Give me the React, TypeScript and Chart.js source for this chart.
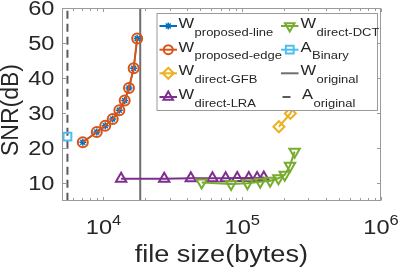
import React, { useEffect, useRef } from 'react';
import { Chart, registerables } from 'chart.js';
Chart.register(...registerables);

// ---- data ----
const proposedSize = [7100, 8950, 10300, 11660, 13010, 14220, 15270, 16500, 17500];
const proposedSNR = [21.7, 24.6, 26.4, 28.3, 30.8, 33.6, 37.2, 42.8, 51.3];
const gfbSize = [183800, 222300, 255000, 290000];
const gfbSNR = [26.1, 29.9, 36.0, 45.0];
const lraSize = [13400, 27400, 42600, 61000, 75900, 92000, 111500, 128000, 143000];
const lraSNR = [11.3, 11.3, 11.4, 11.4, 11.4, 11.5, 11.5, 11.5, 11.6];
const dctSize = [51000, 83100, 109000, 134700, 158800, 182300, 202400, 221000, 238400];
const dctSNR = [10.2, 9.8, 10.0, 10.4, 10.7, 11.4, 12.4, 15.0, 19.0];
const binarySize = [5500];
const binarySNR = [23.3];
const wOriginalSize = 18400;
const aOriginalSize = 5500;
const yRange = [5, 60];
const xRange = [5000, 1e6];

const yTicks = [10, 20, 30, 40, 50, 60];
const xMajorTicks = [1e4, 1e5, 1e6];
const xTickBase = '10';
const xTickExp = ['4', '5', '6'];
const yTitle = 'SNR(dB)';
const xTitle = 'file size(bytes)';

const legendMain = ['W', 'W', 'W', 'W', 'W', 'A', 'W', 'A'];
const legendSub = ['proposed-line', 'proposed-edge', 'direct-GFB', 'direct-LRA', 'direct-DCT', 'Binary', 'original', 'original'];

// ---- styles ----
const C = {
  blue: '#0072BD', orange: '#D95319', yellow: '#EDB120', purple: '#7E2F8E',
  green: '#77AC30', cyan: '#4DBEEE', gray: '#6e6e6e', dgray: '#5a5a5a', text: '#262626', frame: '#9a9a9a',
};
const FONT = '"Liberation Sans", Arial, sans-serif';
const SX = 1.18; // horizontal text stretch seen in the reference

const legendStyles = [
  { color: C.blue, marker: 'star', dash: null as number[] | null },
  { color: C.orange, marker: 'circle', dash: null },
  { color: C.yellow, marker: 'rectRot', dash: null },
  { color: C.purple, marker: 'triangle', dash: null },
  { color: C.green, marker: 'triangleDown', dash: null },
  { color: C.cyan, marker: 'rect', dash: null },
  { color: C.gray, marker: null, dash: null },
  { color: C.dgray, marker: null, dash: [8, 30] },
];

function pts(xs: number[], ys: number[]) {
  return xs.map((x, i) => ({ x, y: ys[i] }));
}

function sText(ctx: CanvasRenderingContext2D, text: string, x: number, y: number, align: CanvasTextAlign) {
  ctx.save();
  ctx.translate(x, y);
  ctx.scale(SX, 1);
  ctx.textAlign = align;
  ctx.fillText(text, 0, 0);
  ctx.restore();
}

function drawMarker(ctx: CanvasRenderingContext2D, m: string, x: number, y: number, r: number) {
  ctx.beginPath();
  if (m === 'circle') {
    ctx.arc(x, y, r, 0, Math.PI * 2);
  } else if (m === 'star') {
    for (let k = 0; k < 4; k++) {
      const a = (k * Math.PI) / 4;
      ctx.moveTo(x - Math.cos(a) * r, y - Math.sin(a) * r);
      ctx.lineTo(x + Math.cos(a) * r, y + Math.sin(a) * r);
    }
  } else if (m === 'rectRot') {
    ctx.moveTo(x, y - r); ctx.lineTo(x + r, y); ctx.lineTo(x, y + r); ctx.lineTo(x - r, y); ctx.closePath();
  } else if (m === 'triangle' || m === 'triangleDown') {
    const s = m === 'triangle' ? 1 : -1;
    ctx.moveTo(x, y - s * r);
    ctx.lineTo(x + r * 0.866, y + s * r * 0.5);
    ctx.lineTo(x - r * 0.866, y + s * r * 0.5);
    ctx.closePath();
  } else if (m === 'rect') {
    const h = r * 0.707;
    ctx.rect(x - h, y - h, 2 * h, 2 * h);
  }
  ctx.stroke();
}

const decorPlugin = {
  id: 'decor',
  afterDraw(chart: any) {
    const { ctx, chartArea: a, scales } = chart;
    const xs = scales.x, ys = scales.y;
    ctx.save();

    // legend box
    const lx0 = 157, ly0 = 13.5, lx1 = 377.5, ly1 = 110.5;
    ctx.fillStyle = '#ffffff';
    ctx.fillRect(lx0, ly0, lx1 - lx0, ly1 - ly0);
    ctx.strokeStyle = C.frame;
    ctx.lineWidth = 1;
    ctx.strokeRect(lx0, ly0, lx1 - lx0, ly1 - ly0);
    const colSample = [[159.5, 177], [281, 298.5]];
    const colText = [178.5, 300.5];
    const rowY = [26, 49.7, 73.3, 97];
    legendMain.forEach((main, i) => {
      const col = i < 4 ? 0 : 1;
      const row = i % 4;
      const st = legendStyles[i];
      const [s0, s1] = colSample[col];
      const y = rowY[row];
      ctx.strokeStyle = st.color;
      ctx.lineWidth = 2;
      ctx.setLineDash(st.dash || []);
      ctx.beginPath();
      ctx.moveTo(s0 + (st.dash ? 1.5 : 0), y);
      ctx.lineTo(s1, y);
      ctx.stroke();
      ctx.setLineDash([]);
      if (st.marker) {
        ctx.lineWidth = st.marker === 'star' ? 1.5 : 2;
        const r = st.marker === 'circle' ? 4.5 : st.marker === 'star' ? 3.5 : 5.5;
        drawMarker(ctx, st.marker, (s0 + s1) / 2, y, r);
      }
      ctx.fillStyle = C.text;
      ctx.textBaseline = 'alphabetic';
      ctx.font = `14px ${FONT}`;
      const tx = colText[col] + (i === 7 ? 1.5 : 0);
      sText(ctx, main, tx, y + 2, 'left');
      const w = ctx.measureText(main).width * SX;
      ctx.font = `11px ${FONT}`;
      sText(ctx, legendSub[i], tx + w + 0.5, y + 9.5, 'left');
    });

    // frame
    ctx.strokeStyle = C.frame;
    ctx.lineWidth = 1;
    const L = Math.round(a.left) + 0.5, R = Math.round(a.right) - 0.5;
    const T = Math.round(a.top) + 0.5, B = Math.round(a.bottom) - 0.5;
    ctx.strokeRect(L, T, R - L, B - T);

    // y ticks + labels
    ctx.fillStyle = C.text;
    ctx.font = `20px ${FONT}`;
    ctx.textBaseline = 'middle';
    yTicks.forEach((v) => {
      const py = Math.round(ys.getPixelForValue(v)) + 0.5;
      ctx.beginPath();
      ctx.moveTo(L, py); ctx.lineTo(L + 3.5, py);
      ctx.moveTo(R, py); ctx.lineTo(R - 3.5, py);
      ctx.stroke();
      sText(ctx, String(v), L - 8, py + 1, 'right');
    });

    // x ticks (log major + minor)
    for (let d = 3; d <= 6; d++) {
      for (let m = 1; m <= 9; m++) {
        const v = m * Math.pow(10, d);
        if (v < xRange[0] || v > xRange[1]) continue;
        const px = Math.round(xs.getPixelForValue(v)) + 0.5;
        const len = m === 1 ? 3.5 : 2.5;
        ctx.beginPath();
        ctx.moveTo(px, B); ctx.lineTo(px, B - len);
        ctx.moveTo(px, T); ctx.lineTo(px, T + len);
        ctx.stroke();
      }
    }
    // x labels with superscripts
    ctx.textBaseline = 'alphabetic';
    xMajorTicks.forEach((v, i) => {
      const px = xs.getPixelForValue(v);
      ctx.font = `20px ${FONT}`;
      const wb = ctx.measureText(xTickBase).width * SX;
      ctx.font = `14px ${FONT}`;
      const we = ctx.measureText(xTickExp[i]).width * SX;
      const x0 = px - (wb + we) / 2;
      ctx.font = `20px ${FONT}`;
      sText(ctx, xTickBase, x0, 234, 'left');
      ctx.font = `14px ${FONT}`;
      sText(ctx, xTickExp[i], x0 + wb, 225, 'left');
    });

    // axis titles
    ctx.font = `23px ${FONT}`;
    sText(ctx, xTitle, (a.left + a.right) / 2, 262, 'center');
    ctx.save();
    ctx.translate(18, 110);
    ctx.rotate(-Math.PI / 2);
    ctx.textAlign = 'center';
    ctx.textBaseline = 'alphabetic';
    ctx.fillText(yTitle, 0, 0);
    ctx.restore();

    ctx.restore();
  },
};

export default function App() {
  const ref = useRef<HTMLCanvasElement | null>(null);
  useEffect(() => {
    document.body.style.margin = '0';
    if (!ref.current) return;
    const chart = new Chart(ref.current, {
      type: 'scatter',
      data: {
        datasets: [
          {
            label: 'A_original', data: [{ x: aOriginalSize, y: yRange[0] }, { x: aOriginalSize, y: yRange[1] }],
            showLine: true, borderColor: C.dgray, borderWidth: 2, borderDash: [8, 5], pointRadius: 0, order: 10,
          },
          {
            label: 'W_original', data: [{ x: wOriginalSize, y: yRange[0] }, { x: wOriginalSize, y: yRange[1] }],
            showLine: true, borderColor: C.gray, borderWidth: 2, pointRadius: 0, order: 9,
          },
          {
            label: 'W_proposed-line', data: pts(proposedSize, proposedSNR), showLine: true,
            borderColor: C.blue, borderWidth: 1.5, pointStyle: 'star', pointRadius: 3.5,
            pointBorderColor: C.blue, pointBorderWidth: 1.5, pointBackgroundColor: C.blue, order: 8,
          },
          {
            label: 'W_proposed-edge', data: pts(proposedSize, proposedSNR), showLine: true,
            borderColor: C.orange, borderWidth: 2, pointStyle: 'circle', pointRadius: 5,
            pointBorderColor: C.orange, pointBorderWidth: 2, pointBackgroundColor: 'rgba(0,0,0,0)', order: 7,
          },
          {
            label: 'W_direct-GFB', data: pts(gfbSize, gfbSNR), showLine: true,
            borderColor: C.yellow, borderWidth: 2, pointStyle: 'rectRot', pointRadius: 5.5,
            pointBorderColor: C.yellow, pointBorderWidth: 2, pointBackgroundColor: 'rgba(0,0,0,0)', order: 6,
          },
          {
            label: 'W_direct-LRA', data: pts(lraSize, lraSNR), showLine: true,
            borderColor: C.purple, borderWidth: 2, pointStyle: 'triangle', pointRadius: 6,
            pointBorderColor: C.purple, pointBorderWidth: 2, pointBackgroundColor: 'rgba(0,0,0,0)', order: 5,
          },
          {
            label: 'W_direct-DCT', data: pts(dctSize, dctSNR), showLine: true,
            borderColor: C.green, borderWidth: 2, pointStyle: 'triangle', pointRotation: 180, pointRadius: 6,
            pointBorderColor: C.green, pointBorderWidth: 2, pointBackgroundColor: 'rgba(0,0,0,0)', order: 4,
          },
          {
            label: 'A_Binary', data: pts(binarySize, binarySNR), showLine: false,
            borderColor: C.cyan, pointStyle: 'rect', pointRadius: 5.5,
            pointBorderColor: C.cyan, pointBorderWidth: 2, pointBackgroundColor: 'rgba(0,0,0,0)', order: 3,
          },
        ],
      },
      options: {
        animation: false,
        responsive: false,
        maintainAspectRatio: false,
        layout: { padding: { left: 61.7, top: 8, right: 18, bottom: 69.3 } },
        scales: {
          x: { type: 'logarithmic', min: xRange[0], max: xRange[1], display: false },
          y: { type: 'linear', min: yRange[0], max: yRange[1], display: false },
        },
        plugins: { legend: { display: false }, tooltip: { enabled: false } },
        elements: { line: { tension: 0 } },
      },
      plugins: [decorPlugin],
    });
    return () => chart.destroy();
  }, []);
  return (
    <div style={{ width: 399, height: 270 }}>
      <canvas ref={ref} width={399} height={270} style={{ width: 399, height: 270, display: 'block' }} />
    </div>
  );
}
